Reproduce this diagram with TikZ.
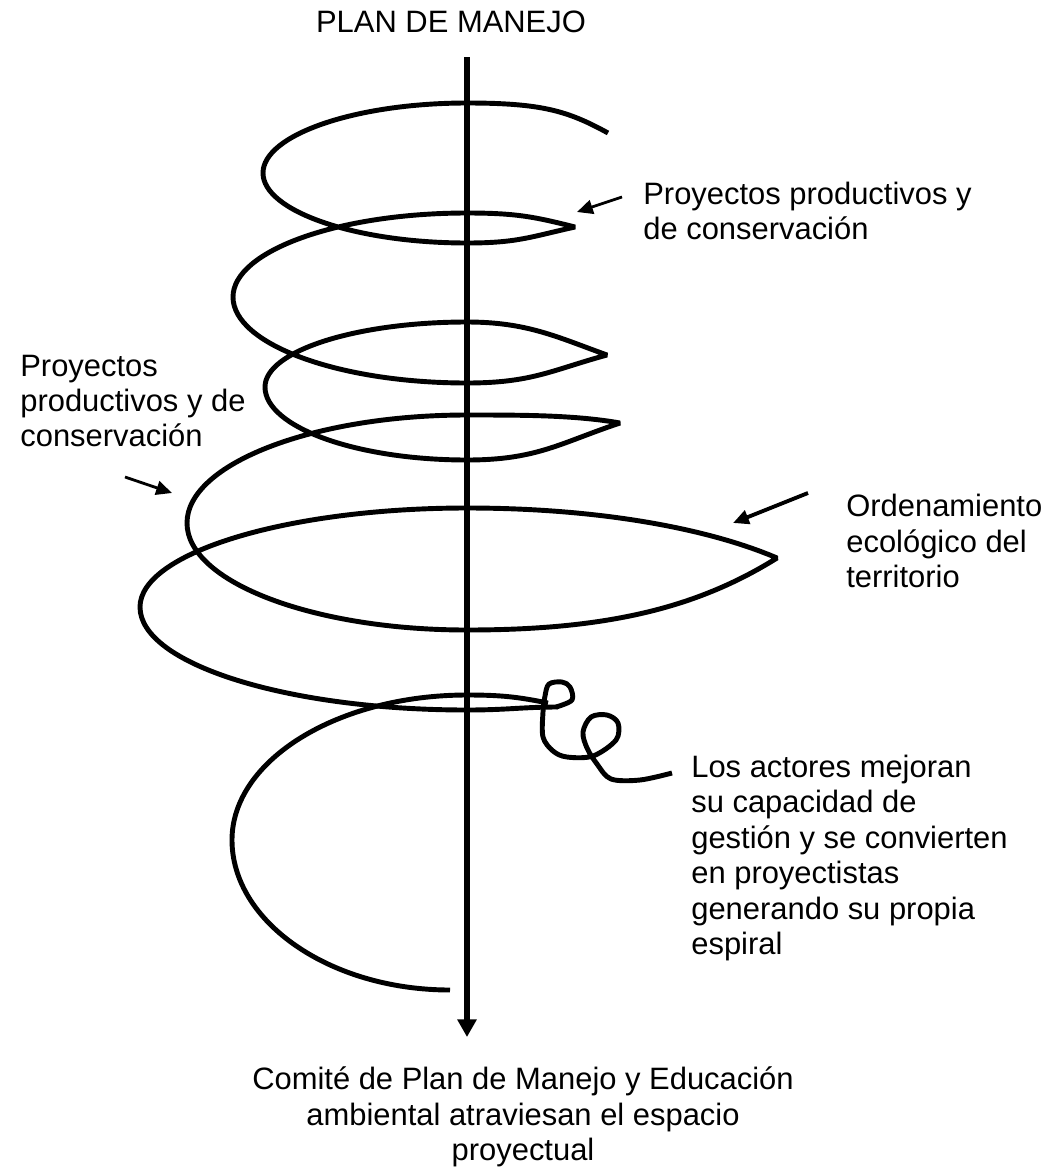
\documentclass[tikz,border=0pt]{standalone}
\usepackage{fontspec}
\setmainfont{Liberation Sans}
\usetikzlibrary{arrows.meta}

\begin{document}
\begin{tikzpicture}[x=0.02cm, y=-0.02cm,
  spiral/.style={line width=2.8pt, line join=bevel},
  axis/.style={line width=3.2pt, -{Triangle[length=10pt,width=10.5pt]}},
  pointer/.style={line width=1.6pt, -{Triangle[length=9pt,width=8pt]}},
  lbl/.style={inner sep=0pt, font=\fontsize{17.6}{20.2}\selectfont}]

\useasboundingbox (0,0) rectangle (1045,1170);


\node [lbl] (title) at (451,22) {PLAN DE MANEJO};
\node [lbl, align=left, anchor=west] (proyA) at (643,211) {Proyectos productivos y\\de conservación};
\node [lbl, align=left, anchor=west] (proyB) at (20,401) {Proyectos\\productivos y de\\conservación};
\node [lbl, align=left, anchor=west] (orden) at (846,541) {Ordenamiento\\ecológico del\\territorio};
\node [lbl, align=left, anchor=west] (actores) at (691,858) {Los actores mejoran\\su capacidad de\\gestión y se convierten\\en proyectistas\\generando su propia\\espiral};
\node [lbl, align=center] (comite) at (523,1117) {Comité de Plan de Manejo y Educación\\ambiental atraviesan el espacio\\proyectual};

\coordinate (axtop) at (467,57);
\coordinate (axend) at (467,1037);
\draw [axis] (axtop) -- (axend);

% la espiral
\draw [spiral] (608,133)
  .. controls +(-40,-22) and +(75,0) .. (467,103)
  .. controls +(-112,0) and +(0,-38) .. (263,173)
  .. controls +(0,38) and +(-112,0) .. (467,243)
  .. controls +(50,0) and +(-45,10) .. (575,227)
  .. controls +(-40,-10) and +(50,0) .. (467,213)
  .. controls +(-129,0) and +(0,-46) .. (233,297)
  .. controls +(0,47) and +(-129,0) .. (467,383)
  .. controls +(65,0) and +(-55,15) .. (607,355)
  .. controls +(-50,-18) and +(60,0) .. (467,322)
  .. controls +(-111,0) and +(0,-36) .. (265,387)
  .. controls +(0,40) and +(-111,0) .. (467,460)
  .. controls +(70,0) and +(-60,20) .. (620,423)
  .. controls +(-45,-8) and +(55,0) .. (467,415)
  .. controls +(-154,0) and +(0,-59) .. (187,523)
  .. controls +(0,59) and +(-154,0) .. (467,630)
  .. controls +(140,0) and +(-80,50) .. (777,558)
  .. controls +(-70,-30) and +(130,0) .. (467,508)
  .. controls +(-180,0) and +(0,-54) .. (140,607)
  .. controls +(0,57) and +(-180,0) .. (467,710)
  .. controls +(40,0) and +(-35,0) .. (558,707);

\draw [spiral] plot [smooth, tension=0.55] coordinates {(556,707) (572,700) (570,687) (562,682) (549,684) (545,696) (543,712) (543,737) (553,751) (567,757) (593,756) (616,740) (618,723) (607,715) (591,717) (583,732) (587,748) (597,764) (611,779) (640,780) (672,773)};

\draw [spiral] (548,703)
  .. controls +(-30,-6) and +(35,0) .. (467,695)
  .. controls +(-129,0) and +(0,-80) .. (232,840)
  .. controls +(0,82) and +(-120,0) .. (450,990);

\coordinate (pA) at (622,197);
\coordinate (tA) at (577,212);
\coordinate (pB) at (125,477);
\coordinate (tB) at (172,493);
\coordinate (pC) at (808,493);
\coordinate (tC) at (733,523);
\draw [pointer] (pA) -- (tA);
\draw [pointer] (pB) -- (tB);
\draw [pointer, line width=2.2pt] (pC) -- (tC);

\end{tikzpicture}
\end{document}
